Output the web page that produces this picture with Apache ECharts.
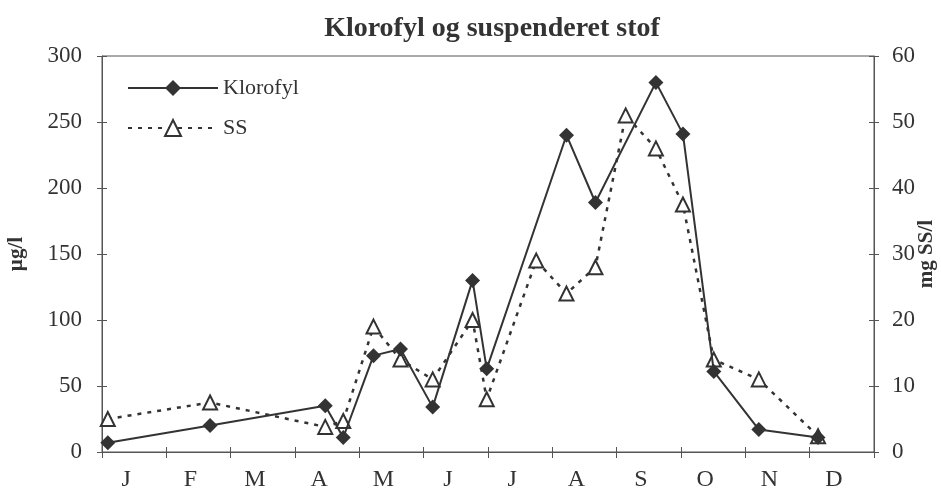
<!DOCTYPE html>
<html>
<head>
<meta charset="utf-8">
<script src="https://cdn.jsdelivr.net/npm/echarts@6/dist/echarts.min.js"></script>
<style>
  html, body { margin: 0; padding: 0; background: #fff; }
  #chart { width: 941px; height: 492px; }
</style>
</head>
<body>
<div id="chart"></div>
<script>
// måneder (akse-labels)
var months = ['J', 'F', 'M', 'A', 'M', 'J', 'J', 'A', 'S', 'O', 'N', 'D'];

// Klorofyl, µg/l  (x = tid i måneder fra 1. jan)
var kloroTime = [0.09, 1.68, 3.47, 3.75, 4.22, 4.64, 5.14, 5.76, 5.98, 7.22, 7.67, 8.61, 9.03, 9.51, 10.21, 11.13];
var kloroVal  = [7, 20, 35, 11, 73, 78, 34, 130, 63, 240, 189, 280, 241, 61, 17, 11];

// Suspenderet stof, mg SS/l
var ssTime = [0.09, 1.68, 3.47, 3.75, 4.22, 4.64, 5.14, 5.76, 5.98, 6.75, 7.22, 7.67, 8.14, 8.61, 9.03, 9.51, 10.21, 11.13];
var ssVal  = [5, 7.5, 3.8, 4.7, 19, 14, 11, 20, 8, 29, 24, 28, 51, 46, 37.5, 14, 11, 2.4];

function pairs(xs, ys) {
  return xs.map(function (x, i) { return [x, ys[i]]; });
}

var ink = '#333';
var serif = 'Liberation Serif';

var chart = echarts.init(document.getElementById('chart'));
chart.setOption({
  backgroundColor: '#fff',
  animation: false,
  title: {
    text: 'Klorofyl og suspenderet stof',
    left: 487,
    textAlign: 'center',
    top: 10,
    textStyle: { fontFamily: serif, fontSize: 28, fontWeight: 'bold', color: ink }
  },
  legend: {
    orient: 'vertical',
    left: 127,
    top: 77,
    padding: 0,
    itemWidth: 90,
    itemHeight: 20,
    itemGap: 18,
    textStyle: { fontFamily: serif, fontSize: 22, color: ink }
  },
  grid: {
    left: 102,
    right: 67,
    top: 56,
    bottom: 40,
    outerBoundsMode: 'none',
    containLabel: false,
    show: true,
    borderColor: '#555',
    borderWidth: 1
  },
  xAxis: [
    {
      type: 'value',
      min: 0,
      max: 12,
      interval: 1,
      axisLine: { show: false },
      axisTick: { show: true, inside: true, length: 5, lineStyle: { color: '#555' } },
      axisLabel: { show: false },
      splitLine: { show: false }
    },
    {
      type: 'category',
      data: months,
      boundaryGap: true,
      position: 'bottom',
      axisLine: { show: true, lineStyle: { color: '#555', width: 1 } },
      axisTick: { show: true, length: 6, lineStyle: { color: '#555' } },
      axisLabel: { fontFamily: serif, fontSize: 24, color: ink, margin: 16, padding: [0, 16, 0, 0] },
      splitLine: { show: false }
    }
  ],
  yAxis: [
    {
      type: 'value',
      min: 0,
      max: 300,
      interval: 50,
      position: 'left',
      name: 'µg/l',
      nameLocation: 'middle',
      nameGap: 75,
      nameRotate: 90,
      nameMoveOverlap: false,
      nameTextStyle: { fontFamily: serif, fontSize: 21, fontWeight: 'bold', color: ink },
      axisLine: { show: true, lineStyle: { color: '#555', width: 1 } },
      axisTick: { show: true, length: 5, lineStyle: { color: '#555' } },
      axisLabel: { fontFamily: serif, fontSize: 23, color: ink, margin: 20 },
      splitLine: { show: false }
    },
    {
      type: 'value',
      min: 0,
      max: 60,
      interval: 10,
      position: 'right',
      name: 'mg SS/l',
      nameLocation: 'middle',
      nameGap: 42,
      nameRotate: 90,
      nameMoveOverlap: false,
      nameTextStyle: { fontFamily: serif, fontSize: 21, fontWeight: 'bold', color: ink },
      axisLine: { show: true, lineStyle: { color: '#555', width: 1 } },
      axisTick: { show: true, length: 5, lineStyle: { color: '#555' } },
      axisLabel: { fontFamily: serif, fontSize: 23, color: ink, margin: 18 },
      splitLine: { show: false }
    },
    {
      type: 'value', min: 0, max: 300, interval: 50, position: 'left',
      axisLine: { show: false }, axisLabel: { show: false }, splitLine: { show: false },
      axisTick: { show: true, inside: true, length: 5, lineStyle: { color: '#555' } }
    },
    {
      type: 'value', min: 0, max: 60, interval: 10, position: 'right',
      axisLine: { show: false }, axisLabel: { show: false }, splitLine: { show: false },
      axisTick: { show: true, inside: true, length: 5, lineStyle: { color: '#555' } }
    }
  ],
  series: [
    {
      name: 'Klorofyl',
      type: 'line',
      xAxisIndex: 0,
      yAxisIndex: 0,
      data: pairs(kloroTime, kloroVal),
      symbol: 'diamond',
      symbolSize: 15,
      lineStyle: { color: ink, width: 2 },
      itemStyle: { color: ink, borderWidth: 0 },
      z: 3
    },
    {
      name: 'SS',
      type: 'line',
      xAxisIndex: 0,
      yAxisIndex: 1,
      data: pairs(ssTime, ssVal),
      symbol: 'triangle',
      symbolSize: 14,
      showAllSymbol: true,
      lineStyle: { color: ink, width: 2.5, type: [4, 6] },
      itemStyle: { color: '#fff', borderColor: ink, borderWidth: 2 },
      z: 2
    }
  ]
});
</script>
</body>
</html>
